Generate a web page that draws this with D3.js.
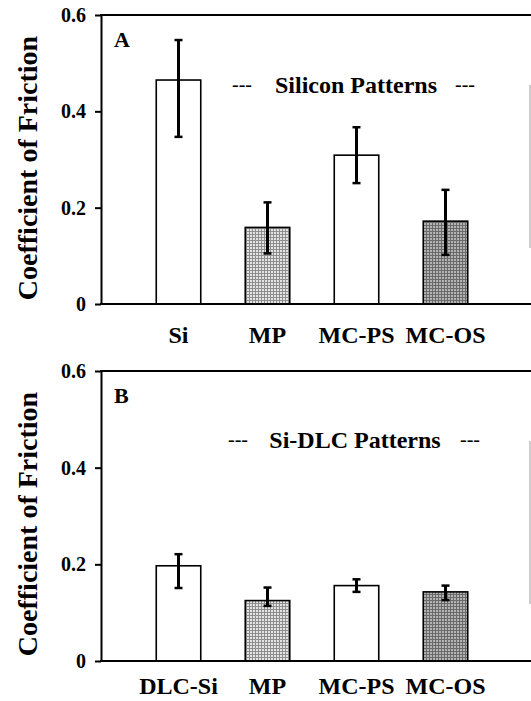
<!DOCTYPE html>
<html>
<head>
<meta charset="utf-8">
<script src="https://cdn.jsdelivr.net/npm/d3@7"></script>
<style>
  body { margin: 0; background: #fff; }
  svg text { font-family: "Liberation Serif", "DejaVu Serif", serif !important; font-weight: bold; fill: #000; }
</style>
</head>
<body>
<div id="chart"></div>
<script>
let svgWidth = 531;
let svgHeight = 701;

// Data

let catsA = ["Si", "MP", "MC-PS", "MC-OS"];
let catsB = ["DLC-Si", "MP", "MC-PS", "MC-OS"];
let cofA = [0.465, 0.159, 0.309, 0.172];
let lowA = [0.347, 0.105, 0.251, 0.102];
let highA = [0.548, 0.211, 0.367, 0.237];
let cofB = [0.197, 0.125, 0.156, 0.143];
let lowB = [0.151, 0.114, 0.143, 0.126];
let highB = [0.221, 0.152, 0.169, 0.156];
let fillKind = ["white", "light", "white", "dark"];
let yTicks = [0, 0.2, 0.4, 0.6];
let yTickLabels = ["0", "0.2", "0.4", "0.6"];

let svg = d3.select("#chart").append("svg")
  .attr("width", svgWidth).attr("height", svgHeight)
  .attr("font-family", "Liberation Serif");

// stippled fills
let defs = svg.append("defs");
let addPattern = (id, base, line) => {
  let p = defs.append("pattern").attr("id", id)
    .attr("patternUnits", "userSpaceOnUse").attr("width", 3).attr("height", 3);
  p.append("rect").attr("width", 3).attr("height", 3).attr("fill", base);
  p.append("rect").attr("width", 3).attr("height", 1).attr("fill", line);
  p.append("rect").attr("width", 1).attr("height", 3).attr("fill", line);
};
addPattern("light", "#e4e4e4", "#8e8e8e");
addPattern("dark", "#b4b4b4", "#6a6a6a");

let fillOf = k => k === "white" ? "#fff" : `url(#${k})`;

let drawPanel = (cfg) => {
  let g = svg.append("g");

  let x = d3.scaleBand().domain(cfg.cats).range([134, 490]).paddingInner(0.5).paddingOuter(0.25);
  let y = d3.scaleLinear().domain([0, 0.6]).range([cfg.bottom, cfg.top]);

  let rows = cfg.cats.map((c, i) => ({ cat: c, v: cfg.vals[i], lo: cfg.lo[i], hi: cfg.hi[i], kind: fillKind[i] }));

  // bars
  g.selectAll("rect.bar").data(rows).enter().append("rect")
    .attr("class", "bar")
    .attr("x", d => x(d.cat))
    .attr("y", d => y(d.v))
    .attr("width", x.bandwidth())
    .attr("height", d => y(0) - y(d.v))
    .attr("fill", d => fillOf(d.kind))
    .attr("stroke", "#000")
    .attr("stroke-width", 1.6);

  // error bars
  let cx = d => x(d.cat) + x.bandwidth() / 2;
  g.selectAll("line.err").data(rows).enter().append("line")
    .attr("x1", cx).attr("x2", cx)
    .attr("y1", d => y(d.lo)).attr("y2", d => y(d.hi))
    .attr("stroke", "#000").attr("stroke-width", 3);
  ["lo", "hi"].forEach(k => {
    g.selectAll("line.cap" + k).data(rows).enter().append("line")
      .attr("x1", d => cx(d) - 4).attr("x2", d => cx(d) + 4)
      .attr("y1", d => y(d[k])).attr("y2", d => y(d[k]))
      .attr("stroke", "#000").attr("stroke-width", 2.5);
  });

  // frame lines
  g.append("line").attr("x1", 100).attr("x2", 531).attr("y1", y(0.6)).attr("y2", y(0.6))
    .attr("stroke", "#000").attr("stroke-width", 2);
  g.append("line").attr("x1", 100).attr("x2", 531).attr("y1", y(0)).attr("y2", y(0))
    .attr("stroke", "#000").attr("stroke-width", 2);
  g.append("line").attr("x1", 530).attr("x2", 530).attr("y1", cfg.top + 70).attr("y2", cfg.top + 233)
    .attr("stroke", "#aaa").attr("stroke-width", 1.2);

  // y axis
  let yAxis = g.append("g")
    .attr("transform", "translate(101, 0)")
    .call(d3.axisLeft(y).tickValues(yTicks).tickSize(6).tickSizeOuter(0).tickPadding(9)
      .tickFormat((d, i) => yTickLabels[i]));
  yAxis.attr("font-family", null);
  yAxis.select(".domain").attr("stroke", "#000").attr("stroke-width", 2);
  yAxis.selectAll(".tick line").attr("stroke", "#000").attr("stroke-width", 2);
  yAxis.selectAll("text").style("font-size", "20px");

  // x axis labels
  let xAxis = g.append("g")
    .attr("transform", `translate(0, ${y(0)})`)
    .call(d3.axisBottom(x).tickSize(0).tickPadding(cfg.labelPad));
  xAxis.attr("font-family", null);
  xAxis.select(".domain").remove();
  xAxis.selectAll("text").style("font-size", "24px");

  // y title
  g.append("text")
    .attr("transform", `translate(37, ${cfg.titleY}) rotate(-90)`)
    .attr("text-anchor", "middle")
    .style("font-size", "28px")
    .text("Coefficient of Friction");

  // panel letter
  g.append("text").attr("x", 114).attr("y", cfg.letterY).style("font-size", "22px").text(cfg.letter);

  // caption with dashes
  g.append("text").attr("x", cfg.capX).attr("y", cfg.capY).attr("text-anchor", "middle")
    .style("font-size", "24px").text(cfg.caption);
  g.append("text").attr("x", cfg.dash1).attr("y", cfg.capY - 2).style("font-size", "20px")
    .style("font-weight", "normal").text("---");
  g.append("text").attr("x", cfg.dash2).attr("y", cfg.capY - 2).style("font-size", "20px")
    .style("font-weight", "normal").text("---");
};

drawPanel({
  cats: catsA, vals: cofA, lo: lowA, hi: highA,
  top: 15, bottom: 304, labelPad: 22, titleY: 168,
  letter: "A", letterY: 47,
  caption: "Silicon Patterns", capX: 356, capY: 93, dash1: 232, dash2: 455
});

drawPanel({
  cats: catsB, vals: cofB, lo: lowB, hi: highB,
  top: 371, bottom: 661, labelPad: 16, titleY: 524,
  letter: "B", letterY: 403,
  caption: "Si-DLC Patterns", capX: 355, capY: 448, dash1: 228, dash2: 460
});
</script>
</body>
</html>
